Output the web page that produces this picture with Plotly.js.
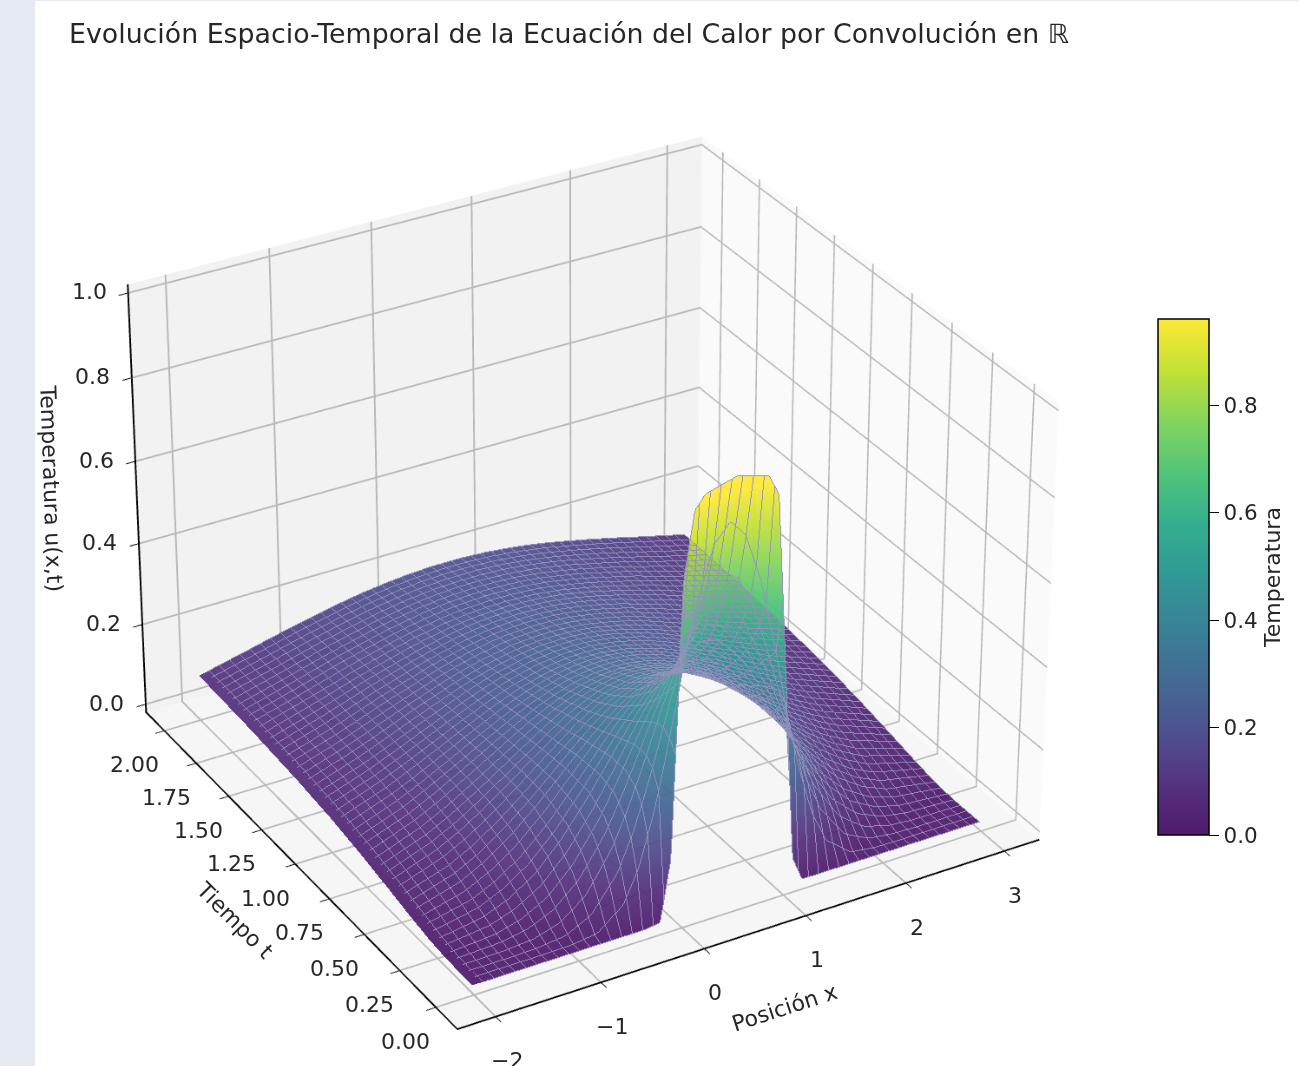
<!DOCTYPE html>
<html><head><meta charset="utf-8">
<script src="https://cdn.plot.ly/plotly-3.0.1.min.js"></script>
<style>
html,body{margin:0;padding:0;background:#fff;overflow:hidden;width:1299px;height:1066px}
#strip{position:absolute;left:0;top:0;width:35px;height:1066px;background:#e5eaf3}
#topline{position:absolute;left:0;top:0;width:1299px;height:1px;background:#e5eaf3}
#plot{position:absolute;left:-1915px;top:-1937px;width:5000px;height:5000px}
</style></head><body>
<div id="plot"></div><div id="strip"></div><div id="topline"></div>
<script>
const titleText = "Evolución Espacio-Temporal de la Ecuación del Calor por Convolución en ℝ";
const xLabel = "Posición x", tLabel = "Tiempo t", zLabel = "Temperatura u(x,t)", cbLabel = "Temperatura";
const xTicks = [-2,-1,0,1,2,3];
const xTickText = ["−2","−1","0","1","2","3"];
const tTicks = [0,0.25,0.5,0.75,1,1.25,1.5,1.75,2];
const tTickText = ["0.00","0.25","0.50","0.75","1.00","1.25","1.50","1.75","2.00"];
const zTicks = [0,0.2,0.4,0.6,0.8,1];
const zTickText = ["0.0","0.2","0.4","0.6","0.8","1.0"];
const cbTicks = [0,0.2,0.4,0.6,0.8];
const cbTickText = ["0.0","0.2","0.4","0.6","0.8"];
const xValues = [3,2.5,2.25,2,1.75,1.5,1.35,1.2,1.1,1,0.9,0.8,0.65,0.5,0.35,0.2,0.1,0,-0.1,-0.2,-0.35,-0.5,-0.75,-1,-1.25,-1.5,-2];
const tValues = [2,1.6,1.25,1,0.8,0.6,0.45,0.3,0.2,0.13,0.09,0.05,0.01];
const temperature = [
[0.092,0.121,0.136,0.15,0.163,0.175,0.181,0.186,0.189,0.191,0.194,0.195,0.197,0.197,0.197,0.195,0.194,0.191,0.189,0.186,0.181,0.175,0.163,0.15,0.136,0.121,0.092],
[0.085,0.12,0.138,0.157,0.173,0.189,0.197,0.204,0.209,0.212,0.215,0.217,0.219,0.22,0.219,0.217,0.215,0.212,0.209,0.204,0.197,0.189,0.173,0.157,0.138,0.12,0.085],
[0.074,0.114,0.137,0.161,0.183,0.205,0.216,0.226,0.231,0.236,0.241,0.244,0.247,0.248,0.247,0.244,0.241,0.236,0.231,0.226,0.216,0.205,0.183,0.161,0.137,0.114,0.074],
[0.062,0.106,0.133,0.161,0.19,0.217,0.232,0.246,0.253,0.26,0.266,0.27,0.275,0.276,0.275,0.27,0.266,0.26,0.253,0.246,0.232,0.217,0.19,0.161,0.133,0.106,0.062],
[0.048,0.094,0.124,0.158,0.193,0.228,0.248,0.266,0.276,0.285,0.293,0.299,0.305,0.307,0.305,0.299,0.293,0.285,0.276,0.266,0.248,0.228,0.193,0.158,0.124,0.094,0.048],
[0.031,0.075,0.107,0.147,0.192,0.238,0.265,0.291,0.306,0.319,0.331,0.34,0.349,0.352,0.349,0.34,0.331,0.319,0.306,0.291,0.265,0.238,0.192,0.147,0.107,0.075,0.031],
[0.017,0.053,0.085,0.129,0.182,0.242,0.279,0.314,0.335,0.354,0.371,0.384,0.397,0.402,0.397,0.384,0.371,0.354,0.335,0.314,0.279,0.242,0.182,0.129,0.085,0.053,0.017],
[0.005,0.026,0.052,0.093,0.155,0.233,0.285,0.337,0.371,0.402,0.429,0.451,0.474,0.481,0.474,0.451,0.429,0.402,0.371,0.337,0.285,0.233,0.155,0.093,0.052,0.026,0.005],
[0.001,0.009,0.024,0.056,0.116,0.206,0.274,0.347,0.396,0.443,0.485,0.521,0.558,0.571,0.558,0.521,0.485,0.443,0.396,0.347,0.274,0.206,0.116,0.056,0.024,0.009,0.001],
[0,0.002,0.007,0.025,0.07,0.162,0.242,0.338,0.407,0.475,0.539,0.594,0.652,0.673,0.652,0.594,0.539,0.475,0.407,0.338,0.242,0.162,0.07,0.025,0.007,0.002,0],
[0,0,0.002,0.009,0.039,0.119,0.204,0.316,0.402,0.491,0.576,0.652,0.732,0.761,0.732,0.652,0.576,0.491,0.402,0.316,0.204,0.119,0.039,0.009,0.002,0,0],
[0,0,0,0.001,0.009,0.057,0.135,0.264,0.376,0.499,0.622,0.731,0.845,0.886,0.845,0.731,0.622,0.499,0.376,0.264,0.135,0.057,0.009,0.001,0,0,0],
[0,0,0,0,0,0,0,0,0.06,0.5,0.93,0.98,0.99,1,0.99,0.98,0.95,0.8,0.15,0.005,0,0,0,0,0,0,0]
];
const viridis = [[0,"#4f1a6b"],[0.1,"#55337f"],[0.2,"#4e518f"],[0.3,"#436a95"],[0.4,"#398196"],[0.5,"#319895"],[0.6,"#32ae8d"],[0.7,"#51c47a"],[0.8,"#83d45d"],[0.9,"#c2e135"],[1,"#fde934"]];
const xRange=[-2.36,3.36], tRange=[-0.146,2.146], zRange=[-0.02,1.02];
const ink = "#262626", font = "DejaVu Sans, sans-serif";
const S=5000, OX=1915, OY=1937;
const px=p=>(p+OX)/S, py=p=>1-(p+OY)/S;
function axis(vals, range, bg){
  return {title:{text:""}, range:range, autorange:false,
    tickmode:"array", tickvals:vals, ticks:"outside", ticklen:5, tickwidth:1, tickcolor:"#000", showticklabels:false,
    showline:true, linecolor:"#000", linewidth:2,
    showgrid:true, gridcolor:"#b8b8b8", gridwidth:2, zeroline:false, showbackground:true, backgroundcolor:bg, showspikes:false};
}
function lab(x,y,z,text,xs,ys,angle){
  return {x:x,y:y,z:z,text:text,showarrow:false,xshift:xs,yshift:ys,textangle:angle||0,font:{family:font,size:22,color:ink},xanchor:"center",yanchor:"middle"};
}
const annos=[];
xTicks.forEach((v,i)=>annos.push(lab(v,tRange[0],zRange[0],xTickText[i],11,-44)));
tTicks.forEach((v,i)=>annos.push(lab(xRange[0],v,zRange[0],tTickText[i],-30,-34)));
zTicks.forEach((v,i)=>annos.push(lab(xRange[0],tRange[1],v,zTickText[i],-39,1)));
annos.push(lab(1,tRange[0],zRange[0],xLabel,-21,-92,-18));
annos.push(lab(xRange[0],1,zRange[0],tLabel,-60,-56,45));
annos.push(lab(xRange[0],tRange[1],0.5,zLabel,-86,14,88));
const mesh = {show:true, color:"#9490bc", width:1, highlight:false};
Plotly.newPlot("plot",[{
  type:"surface", x:xValues, y:tValues, z:temperature, surfacecolor:temperature,
  colorscale:viridis, cmin:0, cmax:0.96, opacity:0.93, hoverinfo:"skip",
  lighting:{ambient:1,diffuse:0,specular:0,roughness:1,fresnel:0},
  contours:{x:Object.assign({start:-2,end:3,size:0.102},mesh), y:Object.assign({start:0.01,end:2,size:0.0406},mesh), z:{show:false,highlight:false}},
  colorbar:{thicknessmode:"pixels",thickness:51,lenmode:"pixels",len:516,xref:"paper",yref:"paper",xanchor:"left",x:px(1158),yanchor:"top",y:py(319),
    ypad:0,xpad:0,outlinecolor:"#000",outlinewidth:1.5,ticks:"outside",ticklen:10,tickcolor:"#000",tickmode:"array",tickvals:cbTicks,ticktext:cbTickText,
    tickfont:{family:font,size:21.5,color:ink},title:{text:cbLabel,side:"right",font:{family:font,size:22,color:ink}}}
}],{
  width:S,height:S,paper_bgcolor:"#fff",margin:{l:0,r:0,t:0,b:0},showlegend:false,
  title:{text:titleText,x:px(69),xanchor:"left",xref:"paper",y:py(34),yanchor:"middle",yref:"paper",font:{family:font,size:26.8,color:ink}},
  scene:{domain:{x:[0,1],y:[0,1]},
    aspectmode:"manual",aspectratio:{x:1,y:1,z:0.75},
    xaxis:axis(xTicks,xRange,"#fafafa"),
    yaxis:axis(tTicks,tRange,"#f2f2f2"),
    zaxis:axis(zTicks,zRange,"#f6f6f6"),
    annotations:annos,
    camera:{eye:{x:-3.91,y:-6.77,z:4.55},center:{x:0,y:0,z:0},up:{x:0,y:0,z:1}}}
},{displayModeBar:false});
</script></body></html>
